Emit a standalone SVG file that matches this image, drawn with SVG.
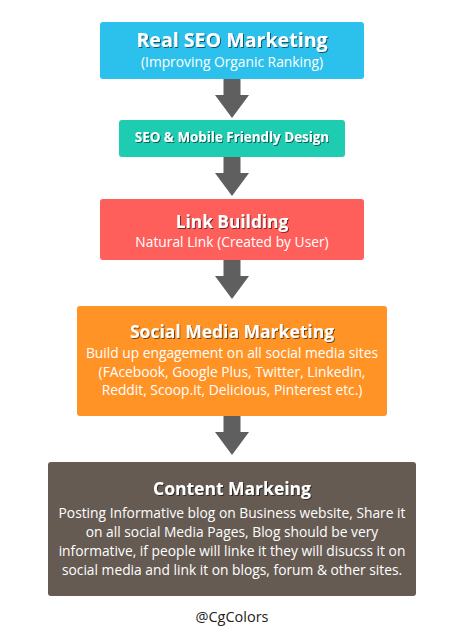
<svg xmlns="http://www.w3.org/2000/svg" width="467" height="642" viewBox="0 0 467 642">
<defs>
<filter id="ts" x="-10%" y="-30%" width="120%" height="160%">
<feDropShadow dx="1" dy="1" stdDeviation="0.6" flood-color="#000" flood-opacity="0.55"/>
</filter>
<path id="arrow" d="M-8.5,0 H8.5 V16 H17 L0,39 L-17,16 H-8.5 Z"/>
</defs>
<style>
text{font-family:"Open Sans","Noto Sans","Liberation Sans",sans-serif;fill:#fff;text-anchor:middle}
.t{font-weight:bold;filter:url(#ts)}
.s{font-size:13.8px}
.conn use{fill:#5f5f5f}
</style>
<rect width="467" height="642" fill="#fff"/>
<g class="conn" id="connectors">
<use href="#arrow" x="232" y="79"/>
<use href="#arrow" x="232" y="157"/>
<use href="#arrow" x="232" y="260"/>
<use href="#arrow" x="232" y="416"/>
</g>
<g id="n1">
<rect x="100" y="22" width="264" height="57" rx="3" fill="#2cc1ec"/>
<text class="t" x="232" y="47" font-size="19.6">Real SEO Marketing</text>
<text class="s" x="232" y="67">(Improving Organic Ranking)</text>
</g>
<g id="n2">
<rect x="119" y="120" width="226" height="37" rx="3" fill="#1ecdb1"/>
<text class="t" x="232" y="142" font-size="13.4">SEO &amp; Mobile Friendly Design</text>
</g>
<g id="n3">
<rect x="100" y="199" width="264" height="61" rx="3" fill="#ff5f5b"/>
<text class="t" x="232" y="228" font-size="17.3">Link Building</text>
<text class="s" x="232" y="247">Natural Link (Created by User)</text>
</g>
<g id="n4">
<rect x="77" y="306" width="310" height="110" rx="3" fill="#ff9326"/>
<text class="t" x="232" y="338" font-size="17.5">Social Media Marketing</text>
<text class="s" x="232" y="358">Build up engagement on all social media sites</text>
<text class="s" x="232" y="377">(FAcebook, Google Plus, Twitter, Linkedin,</text>
<text class="s" x="232" y="395">Reddit, Scoop.it, Delicious, Pinterest etc.)</text>
</g>
<g id="n5">
<rect x="48" y="462" width="368" height="134" rx="3" fill="#665b52"/>
<text class="t" x="232" y="495" font-size="17.5">Content Markeing</text>
<text class="s" x="232" y="518">Posting Informative blog on Business website, Share it</text>
<text class="s" x="232" y="537">on all social Media Pages, Blog should be very</text>
<text class="s" x="232" y="556">informative, if people will linke it they will disucss it on</text>
<text class="s" x="232" y="575">social media and link it on blogs, forum &amp; other sites.</text>
</g>
<g id="credit">
<text x="232" y="622" style="fill:#222;font-size:14.5px">@CgColors</text>
</g>
</svg>
